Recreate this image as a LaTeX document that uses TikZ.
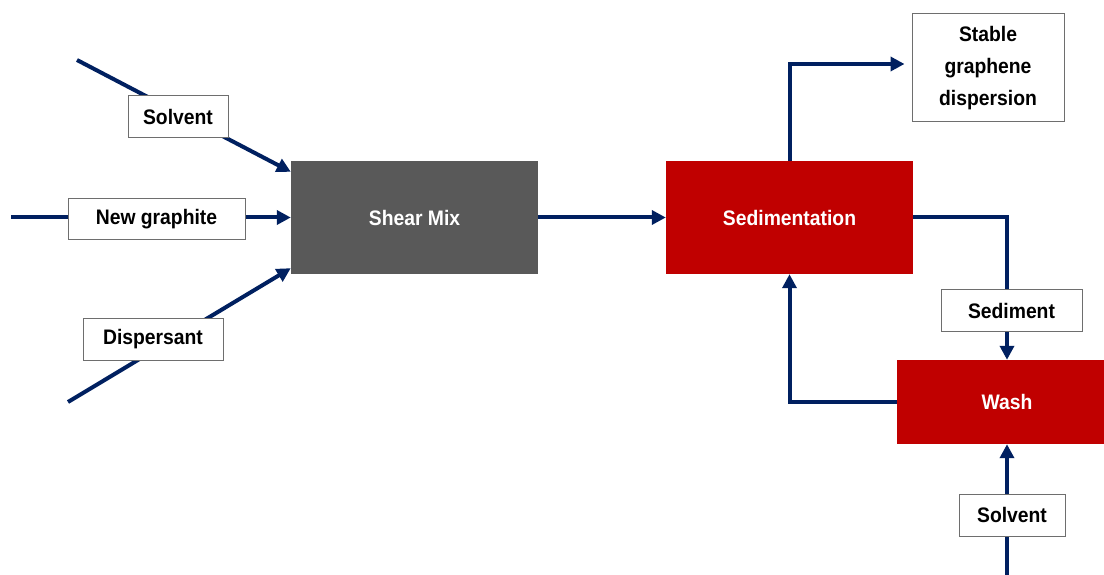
\documentclass[tikz,border=0pt]{standalone}
\usepackage{fontspec}
\setmainfont{Liberation Sans}[FakeStretch=0.92]
\usetikzlibrary{arrows.meta,backgrounds,calc}
\definecolor{flow}{HTML}{002060}
\definecolor{mixgray}{HTML}{595959}
\definecolor{procred}{HTML}{C00000}
\definecolor{edge}{HTML}{6E6E6E}

\begin{document}
\begin{tikzpicture}[x=1pt,y=-1pt,
  txt/.style={font=\fontsize{21}{32}\selectfont\bfseries},
  lbl/.style={txt, draw=edge, line width=1pt, fill=white, text=black,
    inner sep=0pt, align=center},
  proc/.style={txt, text=white, inner sep=0pt,
    minimum width=247pt, minimum height=113pt},
  flowline/.style={draw=flow, line width=4pt},
  arr/.style={flowline, -{Triangle[length=14pt,width=14pt]}}]

\clip (0,0) rectangle (1104,575);

% process steps
\node[proc, fill=mixgray] (mix) at (414.5,217.5) {Shear Mix};
\node[proc, fill=procred] (sed) at (789.5,217.5) {Sedimentation};
\node[proc, fill=procred, minimum width=220pt, minimum height=84pt] (wash) at (1007,402) {Wash};

% stream labels
\node[lbl, minimum width=100pt, minimum height=42pt] (solv) at (178,117) {Solvent};
\node[lbl, minimum width=177pt, minimum height=41pt] (graph) at (156.5,219) {New graphite};
\node[lbl, minimum width=140pt, minimum height=42pt] (disp) at (153,339) {Dispersant};
\node[lbl, minimum width=152pt, minimum height=108pt] (stable) at (988,68) {Stable\\graphene\\dispersion};
\node[lbl, minimum width=141pt, minimum height=42pt] (sedm) at (1011.5,310.5) {Sediment};
\node[lbl, minimum width=106pt, minimum height=42pt] (solv2) at (1012,515) {Solvent};

% free ends of the feed streams
\coordinate (inSolv) at (77,60);
\coordinate (inGraph) at (11,217.5);
\coordinate (inDisp) at (68,402);
\coordinate (inSolv2) at (1007,575);

\begin{scope}[on background layer]
  \draw[arr] (inSolv) -- ($(mix.north west)+(0,11)$);
  \draw[arr] (inGraph) -- (mix.west);
  \draw[arr] (inDisp) -- ($(mix.south west)+(0,-6)$);
  \draw[arr] (mix.east) -- (sed.west);
  \draw[arr] (sed.north) |- ($(stable.west)+(-7,-4)$);
  \draw[arr] (sed.east) -| (wash.north);
  \draw[arr] (wash.west) -| (sed.south);
  \draw[arr] (inSolv2) -- (wash.south);
\end{scope}
\end{tikzpicture}
\end{document}
